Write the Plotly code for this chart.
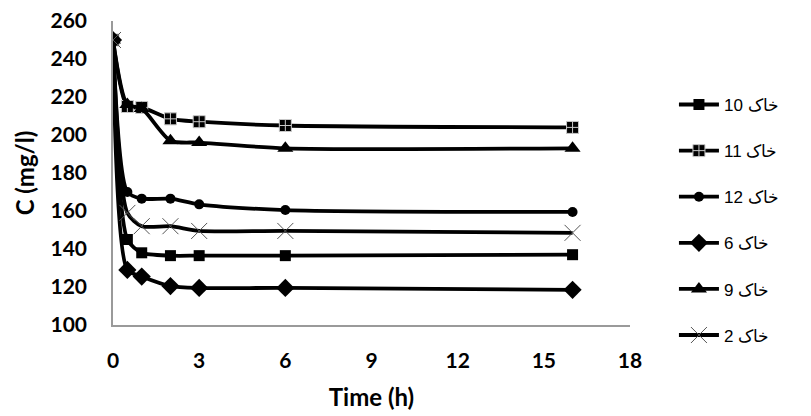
import plotly.graph_objects as go

time_h = [0, 0.5, 1, 2, 3, 6, 16]

series_names = ["10 خاک", "11 خاک", "12 خاک", "6 خاک", "9 خاک", "2 خاک"]
soil_10 = [250, 145, 138, 136.5, 136.5, 136.5, 137]
soil_11 = [250, 215, 214.5, 208.5, 207, 205, 204]
soil_12 = [250, 170, 166.5, 166.5, 163.5, 160.5, 159.5]
soil_6 = [250, 129, 125.5, 120.5, 119.5, 119.5, 118.5]
soil_9 = [250, 216, 214, 197, 196, 193, 193]
soil_2 = [250, 159, 152, 152, 149.5, 149.5, 148.5]

values = [soil_10, soil_11, soil_12, soil_6, soil_9, soil_2]
symbols = ["square", "square-cross", "circle", "diamond", "triangle-up", "x-thin"]
sizes = [11, 12, 10, 14, 14, 16]

x_ticks = [0, 3, 6, 9, 12, 15, 18]
y_ticks = [100, 120, 140, 160, 180, 200, 220, 240, 260]

fig = go.Figure()
for i, (name, vals, sym, sz) in enumerate(zip(series_names, values, symbols, sizes)):
    if sym == "square-cross":
        marker = dict(symbol=sym, size=sz, color="black", line=dict(color="#c8c8c8", width=1))
    elif sym == "x-thin":
        marker = dict(symbol=sym, size=sz, color="#555555", line=dict(color="#555555", width=1))
    else:
        marker = dict(symbol=sym, size=sz, color="black", line=dict(width=0))
    fig.add_trace(go.Scatter(
        x=time_h, y=vals, name=name, mode="lines+markers",
        line=dict(color="black", width=3.8, shape="spline", smoothing=0.7),
        marker=marker, legendgroup=f"g{i}",
    ))

font_family = "Lato, 'Open Sans', sans-serif"
fig.update_layout(
    width=811, height=416,
    margin=dict(l=105, r=189, t=13, b=99),
    paper_bgcolor="white", plot_bgcolor="white",
    font=dict(family=font_family, color="black"),
    showlegend=True,
    legend=dict(x=1.085, y=0.783, xanchor="left", yanchor="top",
                font=dict(size=17, family="Arial, 'Liberation Sans', sans-serif", color="black"),
                tracegroupgap=21, itemwidth=40, bgcolor="rgba(0,0,0,0)"),
    xaxis=dict(range=[0, 18], tickvals=x_ticks, ticktext=[str(t) for t in x_ticks],
               showgrid=False, zeroline=False, showline=True, linecolor="#9a9a9a", linewidth=1.5,
               automargin="bottom", ticklabeloverflow="allow",
               ticks="", ticklabelstandoff=16, tickfont=dict(size=21, family=font_family, weight="bold"),
               title=dict(text="<b>Time (h)</b>", font=dict(size=24, family=font_family), standoff=18)),
    yaxis=dict(range=[100, 260], tickvals=y_ticks, ticktext=[str(t) for t in y_ticks],
               showgrid=False, zeroline=False, showline=True, linecolor="#9a9a9a", linewidth=1.5,
               automargin="left", ticklabeloverflow="allow",
               ticks="", ticklabelstandoff=20, tickfont=dict(size=21, family=font_family, weight="bold"),
               title=dict(text="<b>C (mg/l)</b>", font=dict(size=24, family=font_family), standoff=9)),
)

fig.write_html("out.html")
